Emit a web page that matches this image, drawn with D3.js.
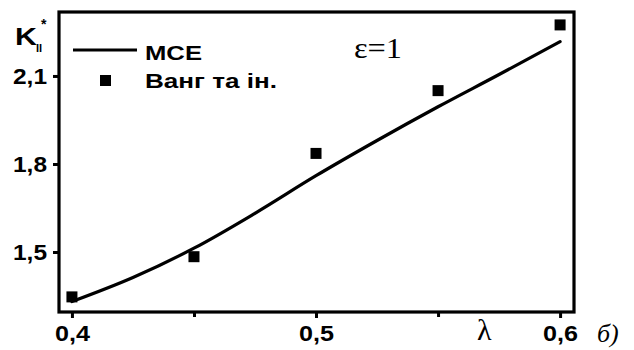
<!DOCTYPE html>
<html>
<head>
<meta charset="utf-8">
<script src="https://cdn.jsdelivr.net/npm/d3@7/dist/d3.min.js"></script>
<style>
  html, body { margin: 0; padding: 0; background: #fff; }
  svg { display: block; }
  .tick text { font-family: "Liberation Sans", Arial, sans-serif; font-weight: bold; font-size: 22px; fill: #000; }
</style>
</head>
<body>
<svg id="chart" width="634" height="350"></svg>
<script>
// Stress intensity factor K_II* versus λ (ε = 1)
const lambdaModel = [0.40, 0.425, 0.45, 0.475, 0.50, 0.525, 0.55, 0.575, 0.60];
const kModel      = [1.331, 1.413, 1.513, 1.632, 1.760, 1.880, 1.995, 2.105, 2.217];

const lambdaWang = [0.40, 0.45, 0.50, 0.55, 0.60];
const kWang      = [1.347, 1.484, 1.836, 2.050, 2.274];

const xTicks = [0.4, 0.5, 0.6];
const xMinorTicks = [0.45, 0.55];
const yTicks = [1.5, 1.8, 2.1];

const legendLabels = ["МСЕ", "Ванг та ін."];
const legendWidths = [57, 132];

const svg = d3.select("#chart");
const m = { left: 59, top: 12, right: 574, bottom: 312 };

const x = d3.scaleLinear().domain([0.3947, 0.6057]).range([m.left, m.right]);
const y = d3.scaleLinear().domain([1.2955, 2.318]).range([m.bottom, m.top]);

const fmt = d => d3.format(".1f")(d).replace(".", ",");

// axes
const gx = svg.append("g").attr("transform", `translate(0,${m.bottom})`)
  .call(d3.axisBottom(x).tickValues(xTicks).tickFormat(fmt).tickSize(6));
svg.append("g").attr("transform", `translate(0,${m.bottom})`)
  .call(d3.axisBottom(x).tickValues(xMinorTicks).tickFormat("").tickSize(5));
const gy = svg.append("g").attr("transform", `translate(${m.left},0)`)
  .call(d3.axisLeft(y).tickValues(yTicks).tickFormat(fmt).tickSize(6));

svg.selectAll(".domain").remove();
svg.selectAll(".tick line").attr("stroke", "#000").attr("stroke-width", 3);

// wide, heavy tick labels
gx.selectAll(".tick text")
  .attr("y", 29).attr("dy", 0).attr("font-size", 23)
  .attr("textLength", 35).attr("lengthAdjust", "spacingAndGlyphs");
gy.selectAll(".tick text")
  .attr("x", -12).attr("dy", "0.36em")
  .attr("textLength", 34).attr("lengthAdjust", "spacingAndGlyphs");

// frame
svg.append("rect")
  .attr("x", m.left).attr("y", m.top)
  .attr("width", m.right - m.left).attr("height", m.bottom - m.top)
  .attr("fill", "none").attr("stroke", "#000").attr("stroke-width", 3.2);

// model curve
const line = d3.line()
  .x((d, i) => x(lambdaModel[i]))
  .y(d => y(d))
  .curve(d3.curveCatmullRom);
svg.append("path")
  .datum(kModel)
  .attr("d", line)
  .attr("fill", "none").attr("stroke", "#000").attr("stroke-width", 3.2)
  .attr("stroke-linecap", "round");

// Wang et al. points
const sq = 11;
svg.selectAll("rect.pt").data(kWang).enter().append("rect")
  .attr("class", "pt")
  .attr("x", (d, i) => x(lambdaWang[i]) - sq / 2)
  .attr("y", d => y(d) - sq / 2)
  .attr("width", sq).attr("height", sq)
  .attr("fill", "#000");

// legend
const lg = svg.append("g");
lg.append("line").attr("x1", 73).attr("x2", 137).attr("y1", 50).attr("y2", 50)
  .attr("stroke", "#000").attr("stroke-width", 3.2);
lg.append("rect").attr("x", 100).attr("y", 75).attr("width", sq).attr("height", sq).attr("fill", "#000");
lg.selectAll("text").data(legendLabels).enter().append("text")
  .attr("x", 145).attr("y", (d, i) => 60 + i * 28)
  .attr("font-family", "Liberation Sans, Arial, sans-serif")
  .attr("font-weight", "bold").attr("font-size", 21)
  .attr("textLength", (d, i) => legendWidths[i]).attr("lengthAdjust", "spacingAndGlyphs")
  .text(d => d);

// parameter annotation
svg.append("text").attr("x", 354).attr("y", 58)
  .attr("font-family", "Liberation Serif, Times New Roman, serif")
  .attr("font-size", 30).attr("textLength", 48).attr("lengthAdjust", "spacingAndGlyphs")
  .text("ε=1");

// y-axis title K_II*
svg.append("text").attr("x", 15).attr("y", 45)
  .attr("font-family", "Liberation Sans, Arial, sans-serif")
  .attr("font-weight", "bold").attr("font-size", 23)
  .attr("textLength", 22).attr("lengthAdjust", "spacingAndGlyphs")
  .text("K");
svg.append("text").attr("x", 36).attr("y", 52)
  .attr("font-family", "Liberation Sans, Arial, sans-serif")
  .attr("font-weight", "bold").attr("font-size", 11).text("II");
svg.append("text").attr("x", 41).attr("y", 29)
  .attr("font-family", "Liberation Sans, Arial, sans-serif")
  .attr("font-weight", "bold").attr("font-size", 14).text("*");

// x-axis title λ
svg.append("text").attr("x", 477).attr("y", 340)
  .attr("font-family", "Liberation Serif, Times New Roman, serif")
  .attr("font-size", 30).text("λ");

// panel label
svg.append("text").attr("x", 597).attr("y", 342)
  .attr("font-family", "Liberation Serif, Times New Roman, serif")
  .attr("font-style", "italic").attr("font-size", 26).text("б)");
</script>
</body>
</html>
